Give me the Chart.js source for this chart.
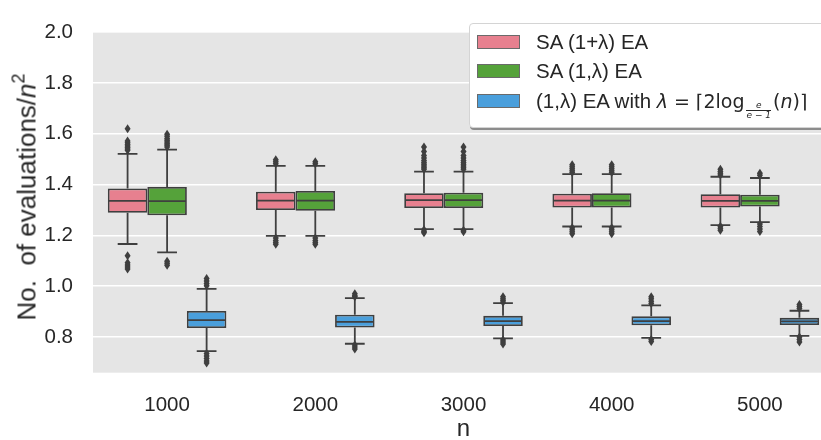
<!DOCTYPE html>
<html>
<head>
<meta charset="utf-8">
<script src="https://cdn.jsdelivr.net/npm/chart.js@4.4.1/dist/chart.umd.min.js"></script>
<style>
    html, body { margin: 0; padding: 0; background: #fff; overflow: hidden; width: 821px; height: 440px; }
    #wrap { position: absolute; left: 0; top: 0; width: 840px; height: 440px; }
    #ytitle {
        position: absolute; left: 27px; top: 197px;
        transform: translate(-50%, -50%) rotate(-90deg);
        white-space: pre; font: 26px "Liberation Sans", Arial, sans-serif; color: #262626;
    }
    #ytitle sup { font-size: 18px; vertical-align: 11px; line-height: 0; }
    #legend {
        position: absolute; left: 469px; top: 23px; width: 380px; height: 103px;
        background: #fff; border: 1px solid #d4d4d4; border-radius: 4px;
        box-shadow: 1px 2px 0 #8c8c8c;
        font: 20.5px "Liberation Sans", Arial, sans-serif; color: #262626;
    }
    .row { position: absolute; left: 7px; height: 24px; white-space: nowrap; }
    .patch { position: absolute; left: 0; top: 5px; width: 43px; height: 14px; border: 1px solid #6a6a6a; box-sizing: border-box; }
    .txt { position: absolute; left: 59px; top: 0; line-height: 24px; }
    .math { font-family: "DejaVu Sans", sans-serif; font-size: 19px; }
    .m { font-style: italic; }
    .frac { display: inline-block; text-align: center; font-style: italic; font-size: 9px; line-height: 9px;
            vertical-align: -10px; margin: 0 2px; }
    .frac span { display: block; }
    .frac span:first-child { border-bottom: 1px solid #262626; padding: 0 2px; }
</style>
</head>
<body>
<div id="wrap">
    <canvas id="chart" width="840" height="440"></canvas>
</div>
<div id="ytitle">No.  of evaluations/<i>n</i><sup>2</sup></div>
<div id="legend">
    <div class="row" style="top:6px"><div class="patch" style="background:#e7808f"></div><span class="txt">SA (1+λ) EA</span></div>
    <div class="row" style="top:35px"><div class="patch" style="background:#55a23a"></div><span class="txt">SA (1,λ) EA</span></div>
    <div class="row" style="top:65px"><div class="patch" style="background:#4a9fdc"></div><span class="txt">(1,λ) EA with <span class="math"><span class="m">λ</span> = ⌈2log<span class="frac"><span>e</span><span>e − 1</span></span>(<span class="m">n</span>)⌉</span></span></div>
</div>
<script>
// n values on the x axis and y axis ticks
const categories = ['1000', '2000', '3000', '4000', '5000'];
const yTickValues = [0.8, 1.0, 1.2, 1.4, 1.6, 1.8, 2.0];

// SA (1+λ) EA
const plusQ1 = [1.289, 1.300, 1.308, 1.310, 1.310];
const plusMed = [1.336, 1.337, 1.339, 1.337, 1.336];
const plusQ3 = [1.385, 1.372, 1.366, 1.364, 1.362];
const plusLo = [1.166, 1.198, 1.225, 1.235, 1.240];
const plusHi = [1.521, 1.474, 1.451, 1.441, 1.431];
const plusOut = [
    [1.62, 1.572, 1.565, 1.558, 1.552, 1.546, 1.54, 1.535, 1.12, 1.092, 1.083, 1.075, 1.068],
    [1.498, 1.49, 1.482, 1.19, 1.18, 1.172, 1.165],
    [1.548, 1.53, 1.515, 1.505, 1.495, 1.487, 1.48, 1.473, 1.466, 1.46, 1.222, 1.215, 1.21],
    [1.478, 1.47, 1.462, 1.455, 1.448, 1.23, 1.222, 1.214, 1.206],
    [1.46, 1.452, 1.445, 1.438, 1.236, 1.228, 1.22]
];

// SA (1,λ) EA
const commaQ1 = [1.279, 1.297, 1.308, 1.310, 1.314];
const commaMed = [1.335, 1.337, 1.339, 1.337, 1.336];
const commaQ3 = [1.391, 1.375, 1.368, 1.366, 1.360];
const commaLo = [1.133, 1.198, 1.225, 1.235, 1.252];
const commaHi = [1.538, 1.474, 1.451, 1.441, 1.426];
const commaOut = [
    [1.598, 1.59, 1.582, 1.575, 1.568, 1.561, 1.555, 1.548, 1.098, 1.09, 1.082],
    [1.49, 1.482, 1.19, 1.18, 1.172, 1.165],
    [1.548, 1.53, 1.515, 1.505, 1.495, 1.487, 1.48, 1.473, 1.466, 1.46, 1.22, 1.214],
    [1.478, 1.47, 1.462, 1.455, 1.448, 1.23, 1.222, 1.214, 1.206],
    [1.445, 1.437, 1.245, 1.235, 1.225, 1.215]
];

// (1,λ) EA with fixed λ
const fixedQ1 = [0.835, 0.837, 0.843, 0.846, 0.847];
const fixedMed = [0.866, 0.859, 0.862, 0.862, 0.861];
const fixedQ3 = [0.902, 0.887, 0.883, 0.881, 0.875];
const fixedLo = [0.744, 0.773, 0.794, 0.796, 0.804];
const fixedHi = [0.989, 0.953, 0.933, 0.924, 0.903];
const fixedOut = [
    [1.03, 1.02, 1.01, 1.002, 0.735, 0.725, 0.715, 0.705, 0.697],
    [0.97, 0.962, 0.958, 0.768, 0.76, 0.752],
    [0.958, 0.95, 0.943, 0.937, 0.788, 0.78, 0.772],
    [0.958, 0.95, 0.94, 0.932, 0.79, 0.782],
    [0.928, 0.92, 0.912, 0.8, 0.79, 0.78]
];

const EDGE = '#3f3f3f';
const series = [
    { label: 'SA (1+λ) EA', color: '#e7808f', q1: plusQ1, med: plusMed, q3: plusQ3, lo: plusLo, hi: plusHi, out: plusOut },
    { label: 'SA (1,λ) EA', color: '#55a23a', q1: commaQ1, med: commaMed, q3: commaQ3, lo: commaLo, hi: commaHi, out: commaOut },
    { label: '(1,λ) EA', color: '#4a9fdc', q1: fixedQ1, med: fixedMed, q3: fixedQ3, lo: fixedLo, hi: fixedHi, out: fixedOut }
];

// boxes as floating bars, q1..q3
const boxSets = series.map(s => ({
    type: 'bar',
    label: s.label,
    data: s.q1.map((v, i) => [v, s.q3[i]]),
    backgroundColor: s.color,
    borderColor: EDGE,
    borderWidth: 1.8,
    borderSkipped: false,
    categoryPercentage: 0.8,
    barPercentage: 1.0
}));

// grey panel behind the plot
const panelBg = {
    id: 'panelBg',
    beforeDraw(chart) {
        const a = chart.chartArea;
        const ctx = chart.ctx;
        ctx.save();
        ctx.fillStyle = '#e5e5e5';
        ctx.fillRect(a.left, a.top, a.right - a.left, a.bottom - a.top);
        ctx.restore();
    }
};

// thin diamond for the fliers
function flier(ctx, x, y) {
    ctx.beginPath();
    ctx.moveTo(x, y - 4.5);
    ctx.lineTo(x + 3, y);
    ctx.lineTo(x, y + 4.5);
    ctx.lineTo(x - 3, y);
    ctx.closePath();
    ctx.fill();
}

// whiskers, caps, medians and fliers, placed on each box
const boxLines = {
    id: 'boxLines',
    afterDatasetsDraw(chart) {
        const ctx = chart.ctx;
        const y = chart.scales.y;
        ctx.save();
        ctx.strokeStyle = EDGE;
        ctx.fillStyle = EDGE;
        ctx.lineWidth = 1.8;
        series.forEach((s, d) => {
            chart.getDatasetMeta(d).data.forEach((bar, i) => {
                const x = bar.x;
                const half = bar.width / 2;
                const cap = bar.width / 4;
                ctx.beginPath();
                ctx.moveTo(x, y.getPixelForValue(s.q3[i]));
                ctx.lineTo(x, y.getPixelForValue(s.hi[i]));
                ctx.moveTo(x, y.getPixelForValue(s.q1[i]));
                ctx.lineTo(x, y.getPixelForValue(s.lo[i]));
                ctx.moveTo(x - cap, y.getPixelForValue(s.hi[i]));
                ctx.lineTo(x + cap, y.getPixelForValue(s.hi[i]));
                ctx.moveTo(x - cap, y.getPixelForValue(s.lo[i]));
                ctx.lineTo(x + cap, y.getPixelForValue(s.lo[i]));
                ctx.moveTo(x - half + 1, y.getPixelForValue(s.med[i]));
                ctx.lineTo(x + half - 1, y.getPixelForValue(s.med[i]));
                ctx.stroke();
                s.out[i].forEach(v => flier(ctx, x, y.getPixelForValue(v)));
            });
        });
        ctx.restore();
    }
};

const textColor = '#262626';
const fontFamily = '"Liberation Sans", Arial, sans-serif';

new Chart(document.getElementById('chart'), {
    type: 'bar',
    data: {
        labels: categories,
        datasets: boxSets
    },
    options: {
        responsive: false,
        animation: false,
        devicePixelRatio: 1,
        layout: { padding: { left: 0, top: 13.5, right: 6, bottom: 0 } },
        plugins: {
            legend: { display: false },
            tooltip: { enabled: false }
        },
        scales: {
            x: {
                offset: true,
                grid: { display: false },
                border: { display: false },
                ticks: { color: textColor, font: { family: fontFamily, size: 20.5 }, padding: 12 },
                title: {
                    display: true,
                    text: 'n',
                    color: textColor,
                    font: { family: fontFamily, size: 24 },
                    padding: { top: 0, bottom: -4 }
                },
                afterFit(scale) { scale.height = 67.3; }
            },
            y: {
                min: 0.659,
                max: 2.0,
                grid: { color: '#ffffff', lineWidth: 1.6, drawTicks: false },
                border: { display: false },
                ticks: {
                    color: textColor,
                    font: { family: fontFamily, size: 20.5 },
                    padding: 20,
                    callback: v => v.toFixed(1)
                },
                afterBuildTicks(scale) {
                    scale.ticks = yTickValues.map(v => ({ value: v }));
                },
                afterFit(scale) { scale.width = 93; }
            }
        }
    },
    plugins: [panelBg, boxLines]
});
</script>
</body>
</html>
